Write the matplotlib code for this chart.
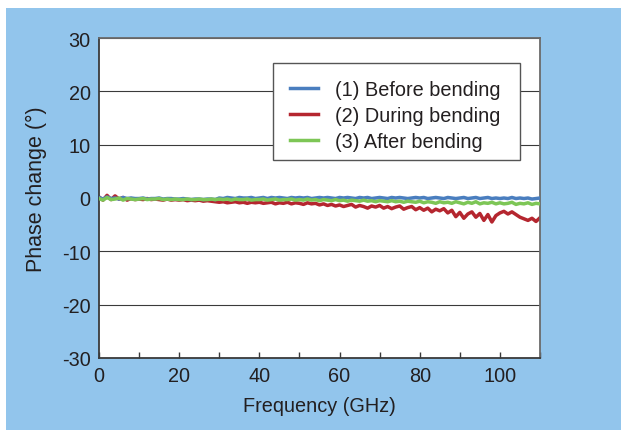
import matplotlib.pyplot as plt
import numpy as np
from matplotlib.patches import Rectangle

# frequency samples (GHz), 1 GHz step
freq = np.arange(0, 111, 1)

# (1) before bending
before = [
    0.1, -0.2, 0.2, -0.1, 0.0, -0.2, 0.1, -0.1, 0.0, -0.1,
    -0.1, 0.0, -0.2, -0.1, -0.1, 0.0, -0.2, -0.1, -0.1, -0.2,
    -0.2, -0.1, -0.2, -0.3, -0.2, -0.2, -0.3, -0.2, -0.2, -0.3,
    0.0, -0.1, 0.1, 0.0, -0.1, 0.1, 0.0, 0.0, 0.1, -0.1,
    0.0, 0.1, -0.1, 0.1, 0.0, 0.1, 0.0, -0.1, 0.1, 0.0,
    0.1, 0.0, 0.1, -0.1, 0.0, 0.1, 0.0, 0.1, 0.0, -0.1,
    0.1, 0.0, 0.1, 0.0, -0.1, 0.1, 0.0, 0.1, -0.1, 0.0,
    0.1, 0.0, -0.1, 0.1, 0.0, 0.1, 0.0, -0.1, 0.0, 0.1,
    0.0, 0.1, -0.1, 0.0, 0.1, 0.0, -0.1, 0.1, 0.0, -0.1,
    0.0, 0.1, -0.1, 0.0, 0.1, -0.1, 0.0, 0.1, -0.1, 0.0,
    -0.1, 0.0, -0.1, 0.1, -0.1, 0.0, -0.1, 0.0, -0.2, -0.1, 0.0,
]

# (2) during bending
during = [
    0.2, -0.4, 0.5, -0.3, 0.4, -0.2, 0.1, -0.4, -0.1, -0.3,
    -0.2, -0.3, -0.1, -0.3, -0.2, -0.3, -0.4, -0.2, -0.4, -0.3,
    -0.4, -0.3, -0.5, -0.4, -0.5, -0.4, -0.6, -0.5, -0.6, -0.7,
    -0.8, -0.7, -0.9, -0.8, -0.7, -0.9, -0.8, -1.0, -0.8, -0.9,
    -0.8, -1.0, -0.9, -0.8, -1.1, -0.9, -1.0, -0.8, -1.1, -0.9,
    -1.0, -1.2, -0.9, -1.1, -1.0, -1.3, -1.1, -1.4, -1.2, -1.5,
    -1.3, -1.6, -1.4, -1.2, -1.7, -1.4, -1.6, -1.9, -1.5, -1.7,
    -1.4, -1.9, -1.6, -2.0, -1.7, -1.5, -2.1, -1.8, -1.6, -2.2,
    -1.8, -2.3, -1.9, -2.6, -2.1, -2.4, -2.0, -2.8, -2.3, -3.5,
    -2.7, -3.8, -3.0, -2.6, -3.6, -2.9, -4.2, -3.1, -4.5, -3.3,
    -2.8, -2.5, -3.0, -2.6, -3.1, -3.6, -3.9, -4.2, -3.8, -4.4, -3.7,
]

# (3) after bending
after = [
    -0.1, -0.4, 0.1, -0.3, -0.2, 0.0, -0.4, -0.1, -0.2, -0.3,
    -0.2, -0.1, -0.3, -0.2, -0.2, -0.1, -0.3, -0.2, -0.3, -0.2,
    -0.3, -0.3, -0.2, -0.3, -0.3, -0.2, -0.3, -0.3, -0.2, -0.3,
    -0.2, -0.3, -0.2, -0.4, -0.2, -0.3, -0.3, -0.2, -0.4, -0.3,
    -0.3, -0.2, -0.4, -0.3, -0.2, -0.4, -0.3, -0.3, -0.2, -0.4,
    -0.3, -0.4, -0.2, -0.4, -0.3, -0.5, -0.3, -0.4, -0.5, -0.3,
    -0.5, -0.4, -0.6, -0.4, -0.5, -0.6, -0.4, -0.6, -0.5, -0.7,
    -0.5, -0.6, -0.7, -0.5, -0.7, -0.6, -0.8, -0.6, -0.7, -0.8,
    -0.6, -0.9, -0.7, -0.8, -1.0, -0.7, -0.9, -0.8, -1.0, -0.7,
    -0.9, -1.1, -0.8, -1.0, -0.7, -1.1, -0.9, -1.0, -0.8, -1.1,
    -0.9, -1.1, -1.0, -0.8, -1.2, -1.0, -1.1, -0.9, -1.2, -1.0, -1.1,
]

labels = ["(1) Before bending", "(2) During bending", "(3) After bending"]
colors = ["#4a7ebf", "#b5262f", "#7dc656"]

plt.rcParams["font.family"] = ["Liberation Sans", "DejaVu Sans"]
plt.rcParams["axes.unicode_minus"] = False
text_color = "#231f20"
fs = 14.3
W, H = 621, 431

fig = plt.figure(figsize=(6.21, 4.31), dpi=100)
fig.patch.set_facecolor("white")

# light blue panel behind everything
fig.patches.append(Rectangle((6 / W, 0), 1 - 6 / W, 1 - 9 / H,
                             transform=fig.transFigure, facecolor="#92c5ec",
                             edgecolor="none", zorder=-10))

ax = fig.add_axes([99 / W, 1 - 359 / H, 441 / W, 320 / H])
ax.set_facecolor("white")

h1, = ax.plot(freq, before, color=colors[0], lw=2.5, zorder=3)
h2, = ax.plot(freq, during, color=colors[1], lw=2.5, zorder=2)
h3, = ax.plot(freq, after, color=colors[2], lw=2.5, zorder=4)

ax.set_xlim(0, 110)
ax.set_ylim(-30, 30)
ax.set_yticks(np.arange(-30, 31, 10))
ax.set_xticks(np.arange(0, 111, 10))
ax.set_xticklabels([str(v) if v % 20 == 0 and v <= 100 else "" for v in range(0, 111, 10)])

ax.yaxis.grid(True, color="#3a3a3a", lw=0.8, zorder=1)
ax.set_axisbelow(True)

ax.tick_params(axis="y", length=0, pad=6, labelsize=fs, labelcolor=text_color)
ax.tick_params(axis="x", direction="in", length=4, width=1, color="#3a3a3a",
               pad=6, labelsize=fs, labelcolor=text_color)

for side in ["left", "bottom"]:
    ax.spines[side].set_color("#3a3a3a")
    ax.spines[side].set_linewidth(1.3)
for side in ["top", "right"]:
    ax.spines[side].set_color("#6b6b6b")
    ax.spines[side].set_linewidth(1.3)

ax.set_xlabel("Frequency (GHz)", fontsize=fs, color=text_color, labelpad=8)
ax.set_ylabel("Phase change (°)", fontsize=15.5, color=text_color)
ax.yaxis.set_label_coords(-0.118, 0.53)

# legend box drawn separately so its padding can match the original
fig.patches.append(Rectangle((273 / W, 1 - 161 / H), 247 / W, 97 / H,
                             transform=fig.transFigure, facecolor="white",
                             edgecolor="#555555", lw=1.0, zorder=5))
leg = fig.legend([h1, h2, h3], labels, loc="upper left",
                 bbox_to_anchor=(290 / W, 1 - 81 / H),
                 bbox_transform=fig.transFigure, fontsize=fs,
                 frameon=False, handlelength=1.4,
                 handletextpad=0.85, labelspacing=0.35, borderpad=0,
                 borderaxespad=0)
leg.set_zorder(6)
for t in leg.get_texts():
    t.set_color(text_color)

fig.savefig("out.png", dpi=100, facecolor=fig.get_facecolor())
